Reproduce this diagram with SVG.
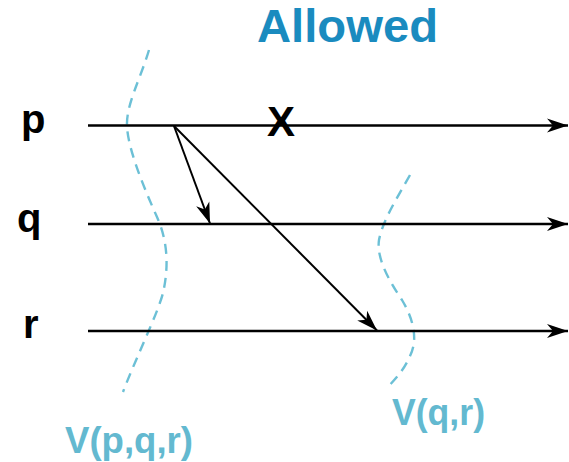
<svg xmlns="http://www.w3.org/2000/svg" width="569" height="462" viewBox="0 0 569 462">
<defs>
<style>
.tl{stroke:#000;stroke-width:2.5;fill:none}
.msg{stroke:#000;stroke-width:2;fill:none}
.cut{stroke:#6cc0d6;stroke-width:2.4;fill:none;stroke-dasharray:10 7}
.lbl{font-family:"Liberation Sans",Arial,sans-serif;font-weight:bold;fill:#000}
.vl{font-family:"Liberation Sans",Arial,sans-serif;font-weight:bold;fill:#63b9d0}
</style>
<marker id="ah" viewBox="-22 -8 23 16" markerWidth="23" markerHeight="16" refX="0" refY="0" orient="auto" markerUnits="userSpaceOnUse">
<path d="M0,0 L-21,-7 L-15,0 L-21,7 Z" fill="#000"/>
</marker>
</defs>
<rect width="569" height="462" fill="#fff"/>
<text x="257" y="42" font-size="46" textLength="181" lengthAdjust="spacingAndGlyphs" style="font-family:'Liberation Sans',Arial,sans-serif;font-weight:bold;fill:#1a8bbf">Allowed</text>
<g id="cuts">
<path class="cut" d="M149,50 C140,80 126,105 127,126 C128,150 145,190 157,217 C166,237 170,262 163,293 C158,313 135,360 123,392"/>
<path class="cut" d="M410,175 C396,200 383,220 379,240 C376,260 392,285 402,300 C414,320 418,340 410,356 C404,370 396,378 388,387"/>
</g>
<g id="proc-p">
<text class="lbl" x="21" y="133" font-size="40">p</text>
<line class="tl" x1="88" y1="125.5" x2="568" y2="125.5" marker-end="url(#ah)"/>
</g>
<g id="proc-q">
<text class="lbl" x="17" y="232" font-size="40">q</text>
<line class="tl" x1="88" y1="224" x2="568" y2="224" marker-end="url(#ah)"/>
</g>
<g id="proc-r">
<text class="lbl" x="23" y="338" font-size="40">r</text>
<line class="tl" x1="88" y1="331" x2="568" y2="331" marker-end="url(#ah)"/>
</g>
<g id="event-x">
<text class="lbl" x="281" y="136" font-size="42" text-anchor="middle">X</text>
</g>
<g id="connectors">
<line class="msg" x1="174" y1="126" x2="210" y2="223.5" marker-end="url(#ah)"/>
<line class="msg" x1="174" y1="126" x2="377" y2="330.5" marker-end="url(#ah)"/>
</g>
<g id="label-vpqr">
<text class="vl" x="65" y="453" font-size="37" textLength="128" lengthAdjust="spacingAndGlyphs">V(p,q,r)</text>
</g>
<g id="label-vqr">
<text class="vl" x="392" y="425" font-size="37" textLength="93" lengthAdjust="spacingAndGlyphs">V(q,r)</text>
</g>
</svg>
